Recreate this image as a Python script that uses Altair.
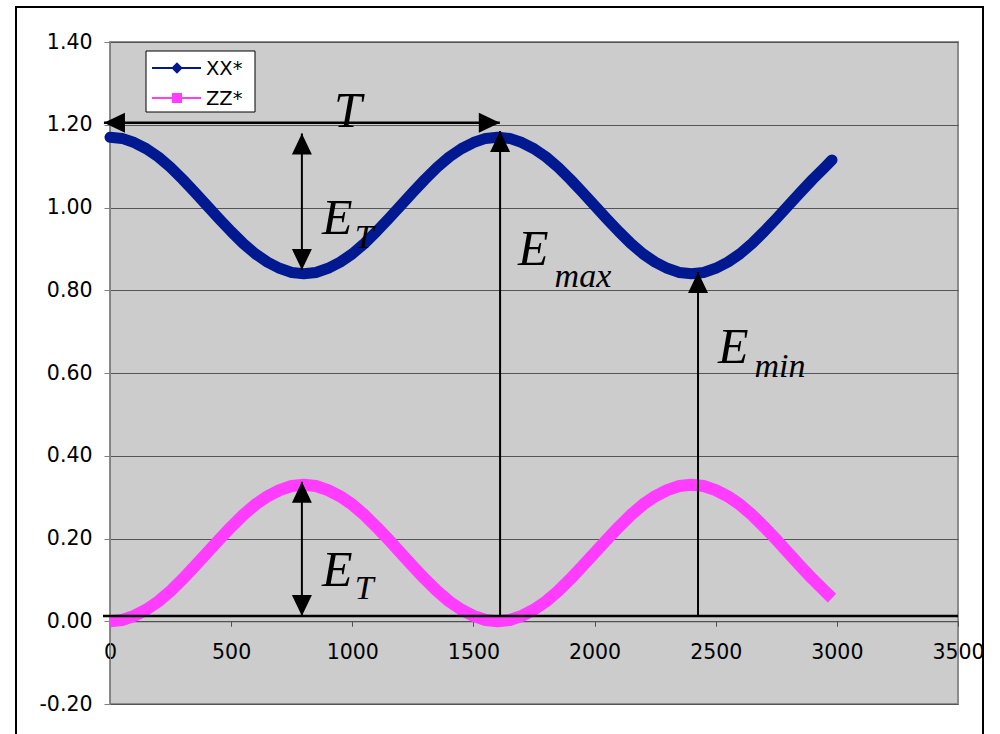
import altair as alt
import pandas as pd

# ---- series data -------------------------------------------------------
x_vals = [0, 50, 100, 150, 200, 250, 300, 350, 400, 450,
          500, 550, 600, 650, 700, 750, 800, 850, 900, 950,
          1000, 1050, 1100, 1150, 1200, 1250, 1300, 1350, 1400, 1450,
          1500, 1550, 1600, 1650, 1700, 1750, 1800, 1850, 1900, 1950,
          2000, 2050, 2100, 2150, 2200, 2250, 2300, 2350, 2400, 2450,
          2500, 2550, 2600, 2650, 2700, 2750, 2800, 2850, 2900, 2950,
          2980]

xx_vals = [1.170, 1.167, 1.157, 1.142, 1.122, 1.097, 1.068, 1.037, 1.005, 0.973,
           0.942, 0.913, 0.888, 0.868, 0.853, 0.843, 0.840, 0.843, 0.853, 0.868,
           0.888, 0.913, 0.942, 0.973, 1.005, 1.037, 1.068, 1.097, 1.122, 1.142,
           1.157, 1.167, 1.170, 1.167, 1.157, 1.142, 1.122, 1.097, 1.068, 1.037,
           1.005, 0.973, 0.942, 0.913, 0.888, 0.868, 0.853, 0.843, 0.840, 0.843,
           0.853, 0.868, 0.888, 0.913, 0.942, 0.973, 1.005, 1.037, 1.068, 1.097,
           1.115]

zz_vals = [0.000, 0.003, 0.013, 0.028, 0.048, 0.073, 0.102, 0.133, 0.165, 0.197,
           0.228, 0.257, 0.282, 0.302, 0.317, 0.327, 0.330, 0.327, 0.317, 0.302,
           0.282, 0.257, 0.228, 0.197, 0.165, 0.133, 0.102, 0.073, 0.048, 0.028,
           0.013, 0.003, 0.000, 0.003, 0.013, 0.028, 0.048, 0.073, 0.102, 0.133,
           0.165, 0.197, 0.228, 0.257, 0.282, 0.302, 0.317, 0.327, 0.330, 0.327,
           0.317, 0.302, 0.282, 0.257, 0.228, 0.197, 0.165, 0.133, 0.102, 0.073,
           0.056]

series_names = ["XX*", "ZZ*"]
series_colors = ["#001890", "#FF3CFF"]

x_ticks = [0, 500, 1000, 1500, 2000, 2500, 3000, 3500]
y_ticks = [-0.2, 0.0, 0.2, 0.4, 0.6, 0.8, 1.0, 1.2, 1.4]

# ---- annotation geometry (data units) ----------------------------------
# vertical arrows: x, lower end, upper end
varrow_x = [792, 792, 1610, 2427]
varrow_lo = [0.849, 0.0127, 0.0127, 0.0127]
varrow_hi = [1.179, 0.337, 1.185, 0.844]

# horizontal lines: period arrow T and the zero reference line
hline_x1 = [-25, -29]
hline_x2 = [1609, 3500]
hline_y = [1.205, 0.0127]

# arrow heads
head_x = [-25, 1609, 792, 792, 792, 792, 1610, 2427]
head_y = [1.205, 1.205, 1.179, 0.849, 0.337, 0.0127, 1.185, 0.844]
head_dir = ["left", "right", "up", "down", "up", "down", "up", "up"]

# symbol labels: main letter and subscript
main_txt = ["T", "E", "E", "E", "E"]
main_x = [925, 875, 1684, 2509, 875]
main_y = [1.1946, 0.936, 0.861, 0.624, 0.085]
sub_txt = ["T", "max", "min", "T"]
sub_x = [1010, 1835, 2660, 1010]
sub_y = [0.902, 0.808, 0.590, 0.054]

# ---- frames -------------------------------------------------------------
xx_df = pd.DataFrame({"x": x_vals, "v": xx_vals})
zz_df = pd.DataFrame({"x": x_vals, "v": zz_vals})
varrow_df = pd.DataFrame({"x": varrow_x, "lo": varrow_lo, "hi": varrow_hi})
hline_df = pd.DataFrame({"x1": hline_x1, "x2": hline_x2, "y": hline_y})
head_df = pd.DataFrame({"x": head_x, "y": head_y, "dir": head_dir})
main_df = pd.DataFrame({"t": main_txt, "x": main_x, "y": main_y})
sub_df = pd.DataFrame({"t": sub_txt, "x": sub_x, "y": sub_y})

LABEL_FONT = "DejaVu Sans"

x_scale = alt.Scale(domain=[0, 3500], nice=False, zero=False)
y_scale = alt.Scale(domain=[-0.2, 1.4], nice=False, zero=False)

x_axis = alt.Axis(
    values=x_ticks, format="d", title=None, grid=False,
    offset=-82.75, tickSize=5, labelPadding=16,
    labelFont=LABEL_FONT, labelFontSize=20.5, labelColor="black",
    domainColor="#505050", tickColor="#505050",
    labelFlush=False, labelOverlap=False,
)
y_axis = alt.Axis(
    values=y_ticks, title=None, grid=True, gridColor="#555555", gridWidth=1,
    labelExpr="datum.value < 0 ? '-' + format(-datum.value, '.2f') : format(datum.value, '.2f')",
    tickSize=6, labelPadding=12,
    labelFont=LABEL_FONT, labelFontSize=20.5, labelColor="black",
    domainColor="#808080", tickColor="#808080",
    labelOverlap=False,
)


def X(field):
    return alt.X(field, type="quantitative", scale=x_scale, axis=x_axis)


def Y(field):
    return alt.Y(field, type="quantitative", scale=y_scale, axis=y_axis)


xx_line = alt.Chart(xx_df).mark_line(
    color=series_colors[0], strokeWidth=11, strokeCap="round", strokeJoin="round"
).encode(x=X("x"), y=Y("v"))

zz_line = alt.Chart(zz_df).mark_line(
    color=series_colors[1], strokeWidth=12, strokeCap="butt", strokeJoin="round"
).encode(x=X("x"), y=Y("v"))

vrules = alt.Chart(varrow_df).mark_rule(color="black", strokeWidth=2).encode(
    x=X("x"), y=Y("lo"), y2=alt.Y2("hi")
)

hrules = alt.Chart(hline_df).mark_rule(color="black", strokeWidth=2.5).encode(
    x=X("x1"), x2=alt.X2("x2"), y=Y("y")
)

head_paths = {
    "up": "M0,0L0.476,1L-0.476,1Z",
    "down": "M0,0L0.476,-1L-0.476,-1Z",
    "left": "M0,0L1,0.476L1,-0.476Z",
    "right": "M0,0L-1,0.476L-1,-0.476Z",
}
heads = alt.Chart(head_df).mark_point(
    filled=True, color="black", opacity=1, size=1764
).encode(
    x=X("x"), y=Y("y"),
    shape=alt.Shape("dir:N", legend=None,
                    scale=alt.Scale(domain=list(head_paths.keys()),
                                    range=list(head_paths.values()))),
)

main_text = alt.Chart(main_df).mark_text(
    align="left", baseline="alphabetic", font="Liberation Serif",
    fontStyle="italic", fontSize=50, color="black"
).encode(x=X("x"), y=Y("y"), text="t:N")

sub_text = alt.Chart(sub_df).mark_text(
    align="left", baseline="alphabetic", font="Liberation Serif",
    fontStyle="italic", fontSize=34, color="black"
).encode(x=X("x"), y=Y("y"), text="t:N")

# ---- legend box (drawn in pixel space of the plot area) ----------------
leg_box = alt.Chart(pd.DataFrame({"k": [0]})).mark_rect(
    fill="white", stroke="black", strokeWidth=1
).encode(x=alt.value(36), x2=alt.value(145), y=alt.value(9), y2=alt.value(70))

legend_layers = [leg_box]
for name, col, shp, sz, ypix in zip(
    series_names, series_colors, ["diamond", "square"], [130, 100], [26, 56]
):
    one = pd.DataFrame({"name": [name]})
    legend_layers.append(
        alt.Chart(one).mark_rule(color=col, strokeWidth=2).encode(
            x=alt.value(42), x2=alt.value(91), y=alt.value(ypix))
    )
    legend_layers.append(
        alt.Chart(one).mark_point(filled=True, color=col, opacity=1, shape=shp, size=sz).encode(
            x=alt.value(67), y=alt.value(ypix))
    )
    legend_layers.append(
        alt.Chart(one).mark_text(align="left", baseline="middle", font=LABEL_FONT,
                                 fontSize=19.5, color="black").encode(
            x=alt.value(96), y=alt.value(ypix + 1), text="name:N")
    )

# outer chart frame
frame = alt.Chart(pd.DataFrame({"k": [0]})).mark_rect(
    fillOpacity=0, stroke="black", strokeWidth=2
).encode(x=alt.value(-94), x2=alt.value(873), y=alt.value(-35), y2=alt.value(700))

chart = alt.layer(
    xx_line, zz_line, vrules, hrules, heads, main_text, sub_text,
    *legend_layers, frame
).properties(
    width=848, height=662,
    autosize=alt.AutoSizeParams(type="none"),
    padding={"left": 110, "top": 42, "right": 42, "bottom": 30},
    background="white",
).configure_view(
    fill="#CCCCCC", stroke="#8C8C8C", strokeWidth=2
)

chart.save("out.html", embed_options={"renderer": "svg", "actions": False})
